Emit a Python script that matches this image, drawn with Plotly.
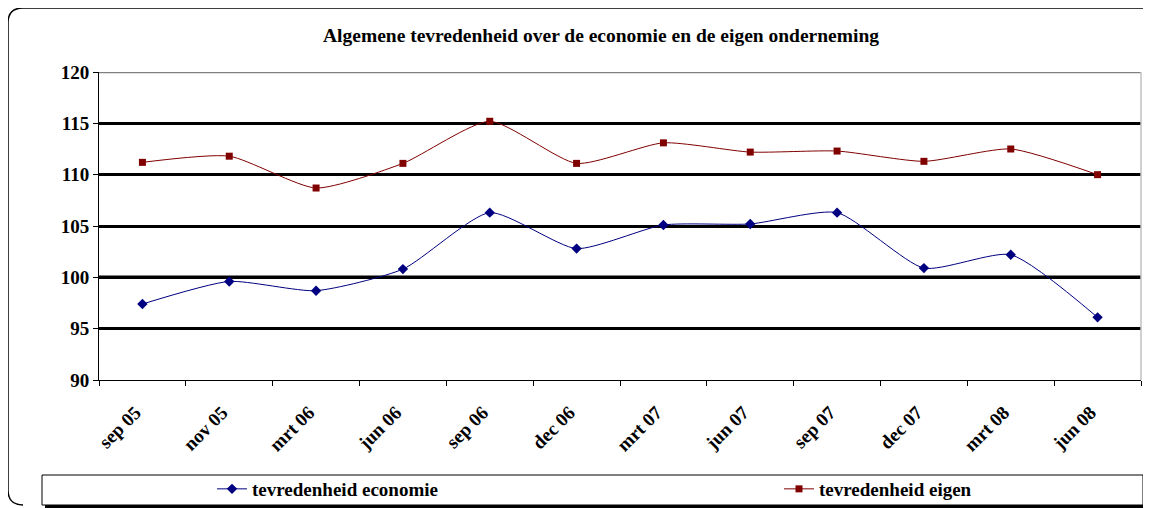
import plotly.graph_objects as go

# data
maanden = ["sep 05", "nov 05", "mrt 06", "jun 06", "sep 06", "dec 06",
           "mrt 07", "jun 07", "sep 07", "dec 07", "mrt 08", "jun 08"]
economie = [97.4, 99.6, 98.7, 100.8, 106.3, 102.8, 105.1, 105.2, 106.3, 100.9, 102.2, 96.1]
eigen = [111.2, 111.8, 108.7, 111.1, 115.2, 111.1, 113.1, 112.2, 112.3, 111.3, 112.5, 110.0]

W, H = 1151, 508
OFF = 8                          # page body margin
L, R, T, B = 99, 1141, 72, 380   # plot area in screen pixels


def px(x):
    return (x - L) / (R - L)


def py(y):
    return (B - y) / (B - T)


font = dict(family="Liberation Serif, Times New Roman, serif", color="black", weight="bold")

fig = go.Figure()
fig.add_trace(go.Scatter(
    x=maanden, y=economie, name="tevredenheid economie", legend="legend",
    mode="lines+markers", line=dict(color="#000080", width=1, shape="spline", smoothing=0.6),
    marker=dict(symbol="diamond", size=8, color="#000080"),
))
fig.add_trace(go.Scatter(
    x=maanden, y=eigen, name="tevredenheid eigen", legend="legend2",
    mode="lines+markers", line=dict(color="#800000", width=1, shape="spline", smoothing=0.6),
    marker=dict(symbol="square", size=7, color="#800000"),
))

# rounded outer border
r = 15
x0, x1, y0, y1 = 8, 1160, 8, 505
path = (f"M {px(x0 + r)},{py(y0)} L {px(x1)},{py(y0)} "
        f"M {px(x0 + r)},{py(y0)} Q {px(x0)},{py(y0)} {px(x0)},{py(y0 + r)} "
        f"L {px(x0)},{py(y1 - r)} Q {px(x0)},{py(y1)} {px(x0 + r)},{py(y1)}")
shapes = [
    dict(type="path", xref="paper", yref="paper", path=path, line=dict(color="black", width=1.5)),
    # legend box shadow and box
    dict(type="rect", xref="paper", yref="paper", x0=px(45), x1=px(1146), y0=py(478), y1=py(508),
         fillcolor="black", line=dict(width=0)),
    dict(type="rect", xref="paper", yref="paper", x0=px(42), x1=px(1143), y0=py(475), y1=py(505),
         fillcolor="white", line=dict(color="black", width=1)),
    # heavier line at 100, grey top line, grey right edge
    dict(type="line", xref="paper", yref="y", x0=0, x1=1, y0=100, y1=100,
         line=dict(color="black", width=3.5), layer="below"),
    dict(type="line", xref="paper", yref="y", x0=0, x1=1, y0=120, y1=120,
         line=dict(color="#808080", width=2.5)),
    dict(type="line", xref="paper", yref="paper", x0=1, x1=1, y0=0, y1=1,
         line=dict(color="#c0c0c0", width=1.5)),
]

legfont = dict(size=19, **font)
fig.update_layout(
    width=W, height=H,
    margin=dict(l=L - OFF, r=W - (R - OFF), t=T - OFF, b=H - (B - OFF), autoexpand=False),
    paper_bgcolor="white", plot_bgcolor="white",
    font=font,
    title=dict(text="Algemene tevredenheid over de economie en de eigen onderneming",
               x=px(601), xanchor="center", xref="paper", y=1 - (35 - OFF) / H, yanchor="middle",
               font=dict(size=19.5, **font)),
    shapes=shapes,
    showlegend=True,
    legend=dict(orientation="h", x=px(212), xanchor="left", y=py(489), yanchor="middle",
                bgcolor="rgba(0,0,0,0)", borderwidth=0, font=legfont),
    legend2=dict(orientation="h", x=px(779), xanchor="left", y=py(489), yanchor="middle",
                 bgcolor="rgba(0,0,0,0)", borderwidth=0, font=legfont),
)
fig.update_xaxes(
    type="category", range=[-0.5, 11.5], tickson="boundaries", ticks="outside", ticklen=5,
    tickcolor="black", showline=True, linecolor="black", linewidth=1, showgrid=False,
    tickangle=-45, tickfont=dict(size=19, **font), ticklabelstandoff=13, ticklabelshift=-7,
)
fig.update_yaxes(
    range=[90, 120], dtick=5, ticks="outside", ticklen=5, tickcolor="black",
    showline=True, linecolor="black", linewidth=1, showgrid=True, gridcolor="black",
    gridwidth=2.5, zeroline=False, tickfont=dict(size=19, **font),
)

fig.write_html("out.html")
